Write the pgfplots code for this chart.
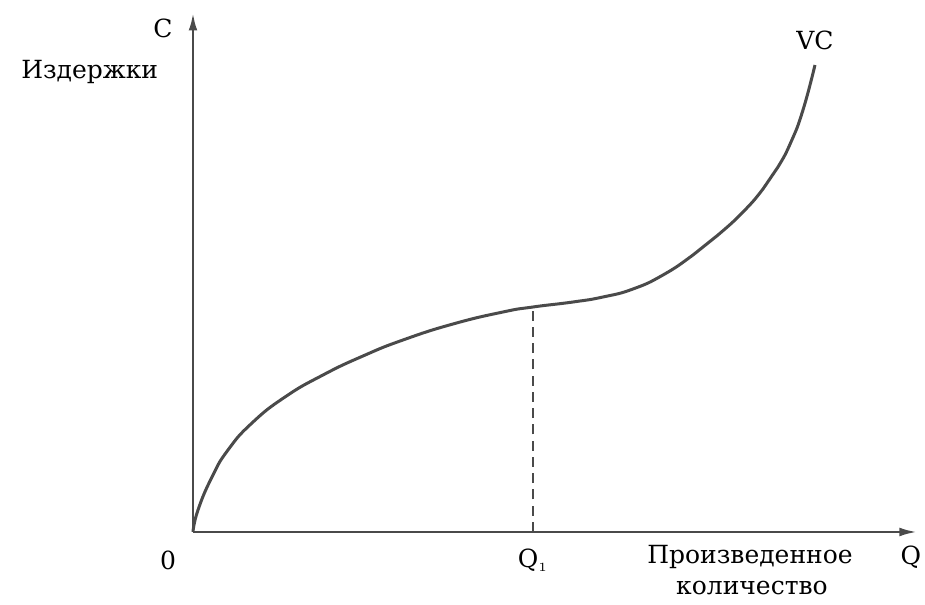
\documentclass[border=0pt]{standalone}
\usepackage{fontspec}
\setmainfont{DejaVu Serif}
\usepackage{pgfplots}
\pgfplotsset{compat=1.18}
\usetikzlibrary{arrows.meta}
\definecolor{ink}{HTML}{4A4A4A}
\definecolor{txt}{HTML}{5A5A5A}
\begin{document}
\begin{tikzpicture}
\begin{axis}[
  scale only axis,
  width=289.6pt, height=207.6pt,
  xmin=0, xmax=724, ymin=0, ymax=519,
  axis lines=left,
  axis line style={ink, line width=1pt},
  x axis line style={-{Latex[length=7pt,width=3.5pt]}},
  y axis line style={-{Latex[length=7pt,width=3.5pt]}},
  xtick=\empty, ytick=\empty,
  clip=false,
  every node/.style={font=\fontsize{11.3}{13}\selectfont, text=txt},
]
\addplot[ink, line width=1.2pt, smooth, tension=0.85] coordinates {
(0,0) (5,22) (19,55) (35,82) (59,109) (92,135) (130,157) (170,176)
(210,192) (260,208) (310,220) (340,225) (380,230) (410,235) (440,243)
(470,257) (500,277) (525,297) (550,320) (570,343) (585,365) (598,390)
(610,422) (622,467)
};
\addplot[ink, line width=0.9pt, dashed, dash pattern=on 4pt off 2.5pt] coordinates {(340,0) (340,225)};
\node at (axis cs:-30,504) {C};
\node[anchor=east] at (axis cs:-26,460) {Издержки};
\node at (axis cs:-25,-28) {0};
\node at (axis cs:340,-28) {Q$_{\scriptscriptstyle 1}$};
\node at (axis cs:557,-25) {Произведенное};
\node at (axis cs:559,-56) {количество};
\node at (axis cs:718,-25) {Q};
\node at (axis cs:622,492) {VC};
\coordinate (bbl) at (axis cs:-193,-73);
\coordinate (bbr) at (axis cs:732,532);
\end{axis}
\pgfresetboundingbox
\path[use as bounding box] (bbl) rectangle (bbr);
\end{tikzpicture}
\end{document}
